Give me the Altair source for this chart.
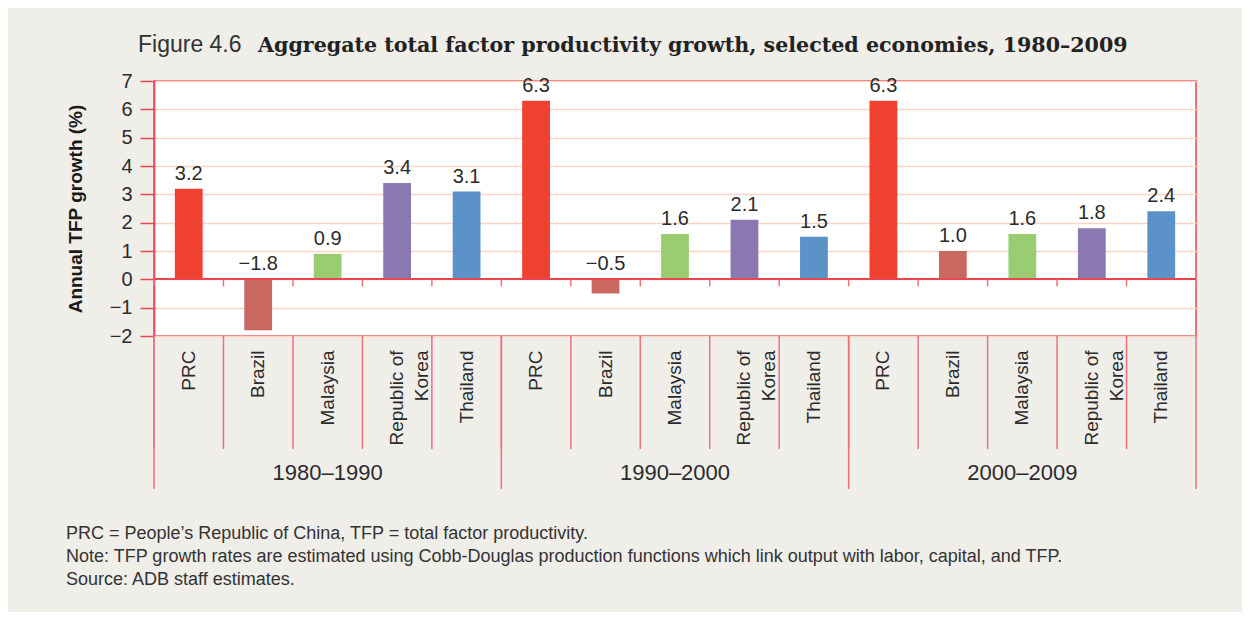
import altair as alt
import pandas as pd

periods = ["1980–1990", "1990–2000", "2000–2009"]
countries = ["PRC", "Brazil", "Malaysia", "Republic of Korea", "Thailand"]
tfp_1980_1990 = [3.2, -1.8, 0.9, 3.4, 3.1]
tfp_1990_2000 = [6.3, -0.5, 1.6, 2.1, 1.5]
tfp_2000_2009 = [6.3, 1.0, 1.6, 1.8, 2.4]
bar_colors = ["#ee4130", "#c96861", "#9acd71", "#8a78b0", "#5b92c7"]
y_ticks = [-2, -1, 0, 1, 2, 3, 4, 5, 6, 7]

title_prefix = "Figure 4.6"
title_main = "Aggregate total factor productivity growth, selected economies, 1980–2009"
y_title = "Annual TFP growth (%)"
notes = [
    "PRC = People’s Republic of China, TFP = total factor productivity.",
    "Note: TFP growth rates are estimated using Cobb-Douglas production functions which link output with labor, capital, and TFP.",
    "Source: ADB staff estimates.",
]

rows = []
for p, vals in zip(periods, [tfp_1980_1990, tfp_1990_2000, tfp_2000_2009]):
    for i, (c, v) in enumerate(zip(countries, vals)):
        rows.append({"key": f"{p}|{c}", "period": p, "country": c, "value": v,
                     "pos": i})
df = pd.DataFrame(rows)
keys = list(df["key"])

RED = "#ee4450"
DIV = "#f07078"
TXT = "#2b2b2b"
SANS = "Liberation Sans"
W, H = 1042, 255

xscale = alt.Scale(domain=keys, paddingInner=0, paddingOuter=0)
yscale = alt.Scale(domain=[-2, 7], nice=False)

x_axis = alt.Axis(
    title=None, ticks=False, domain=False, labelAngle=-90, labelPadding=14,
    labelFont=SANS, labelFontSize=19, labelColor=TXT,
    labelLineHeight=25, labelLimit=0,
    labelExpr="indexof(datum.value, 'Korea') >= 0 ? ['Republic of', 'Korea'] : split(datum.value, '|')[1]",
)
y_axis = alt.Axis(
    title=y_title, values=y_ticks, grid=True, gridColor="#fcd3c4", gridWidth=1.3,
    domainColor=RED, domainWidth=1.5, tickColor=RED, tickSize=14, tickWidth=1.5,
    labelFont=SANS, labelFontSize=20, labelColor=TXT,
    labelPadding=8, titleFont=SANS, titleFontSize=19,
    titleFontWeight="bold", titleColor="#1a1a1a", titlePadding=24,
)


def X(**kw):
    return alt.X("key:N", scale=xscale, axis=x_axis, **kw)


def Y(field):
    return alt.Y(f"{field}:Q", scale=yscale, axis=y_axis)


base = alt.Chart(df)

bars = base.mark_bar(width=alt.RelativeBandSize(0.4)).encode(
    x=X(),
    y=Y("value"),
    y2=alt.Y2("zero:Q"),
    color=alt.Color("country:N", scale=alt.Scale(domain=countries, range=bar_colors), legend=None),
).transform_calculate(zero="0")

labels = base.transform_calculate(laby="max(datum.value, 0)").mark_text(
    baseline="bottom", dy=-5, font=SANS, fontSize=20, color=TXT
).encode(x=X(), y=Y("laby"), text=alt.Text("value:Q", format=".1f"))

zero_line = base.transform_calculate(zero="0").mark_rule(color=RED, strokeWidth=1.5).encode(
    y=Y("zero")
)

zero_ticks = base.transform_calculate(zero="0").mark_rule(
    color=DIV, strokeWidth=1.5, y2Offset=7
).encode(x=X(bandPosition=0), y=Y("zero"), y2=alt.Y2("zero:Q"))

dividers = base.mark_rule(color=DIV, strokeWidth=1.5).encode(
    x=X(bandPosition=0), y=alt.value(H), y2=alt.value(H + 113)
)

group_rules = base.transform_filter("datum.pos == 0").mark_rule(color=DIV, strokeWidth=1.5).encode(
    x=X(bandPosition=0), y=alt.value(H), y2=alt.value(H + 153)
)
end_rule = base.transform_filter("datum.key == '2000–2009|Thailand'").mark_rule(
    color=DIV, strokeWidth=1.5
).encode(x=X(bandPosition=1), y=alt.value(H), y2=alt.value(H + 153))

group_labels = base.transform_filter("datum.pos == 2").mark_text(
    baseline="alphabetic", font=SANS, fontSize=22, color=TXT
).encode(x=X(), y=alt.value(H + 144), text="period:N")

one = pd.DataFrame({"t": [title_prefix]})
t1 = alt.Chart(one).mark_text(
    align="left", baseline="alphabetic", font=SANS, fontSize=23,
    fontWeight=300, color="#333333"
).encode(x=alt.value(-16), y=alt.value(-29), text="t:N")

two = pd.DataFrame({"t": [title_main]})
t2 = alt.Chart(two).mark_text(
    align="left", baseline="alphabetic", font="DejaVu Serif", fontSize=20.6,
    fontWeight="bold", color="#222222"
).encode(x=alt.value(104), y=alt.value(-29), text="t:N")

three = pd.DataFrame({"t": ["\n".join(notes)]})
foot = alt.Chart(three).mark_text(
    align="left", baseline="alphabetic", font=SANS, fontSize=18,
    color="#333333", lineBreak="\n", lineHeight=23
).encode(x=alt.value(-88), y=alt.value(458), text="t:N")

chart = alt.layer(
    bars, zero_line, zero_ticks, labels, dividers, group_rules, end_rule,
    group_labels, t1, t2, foot
).properties(
    width=W, height=H,
    autosize=alt.AutoSizeParams(type="none"),
    padding={"left": 146, "top": 73, "right": 46, "bottom": 276},
    background="#efeee9",
).configure_view(
    fill="white", stroke=RED, strokeWidth=1.5
)

chart.save("out.html", embed_options={"renderer": "svg", "actions": False})
